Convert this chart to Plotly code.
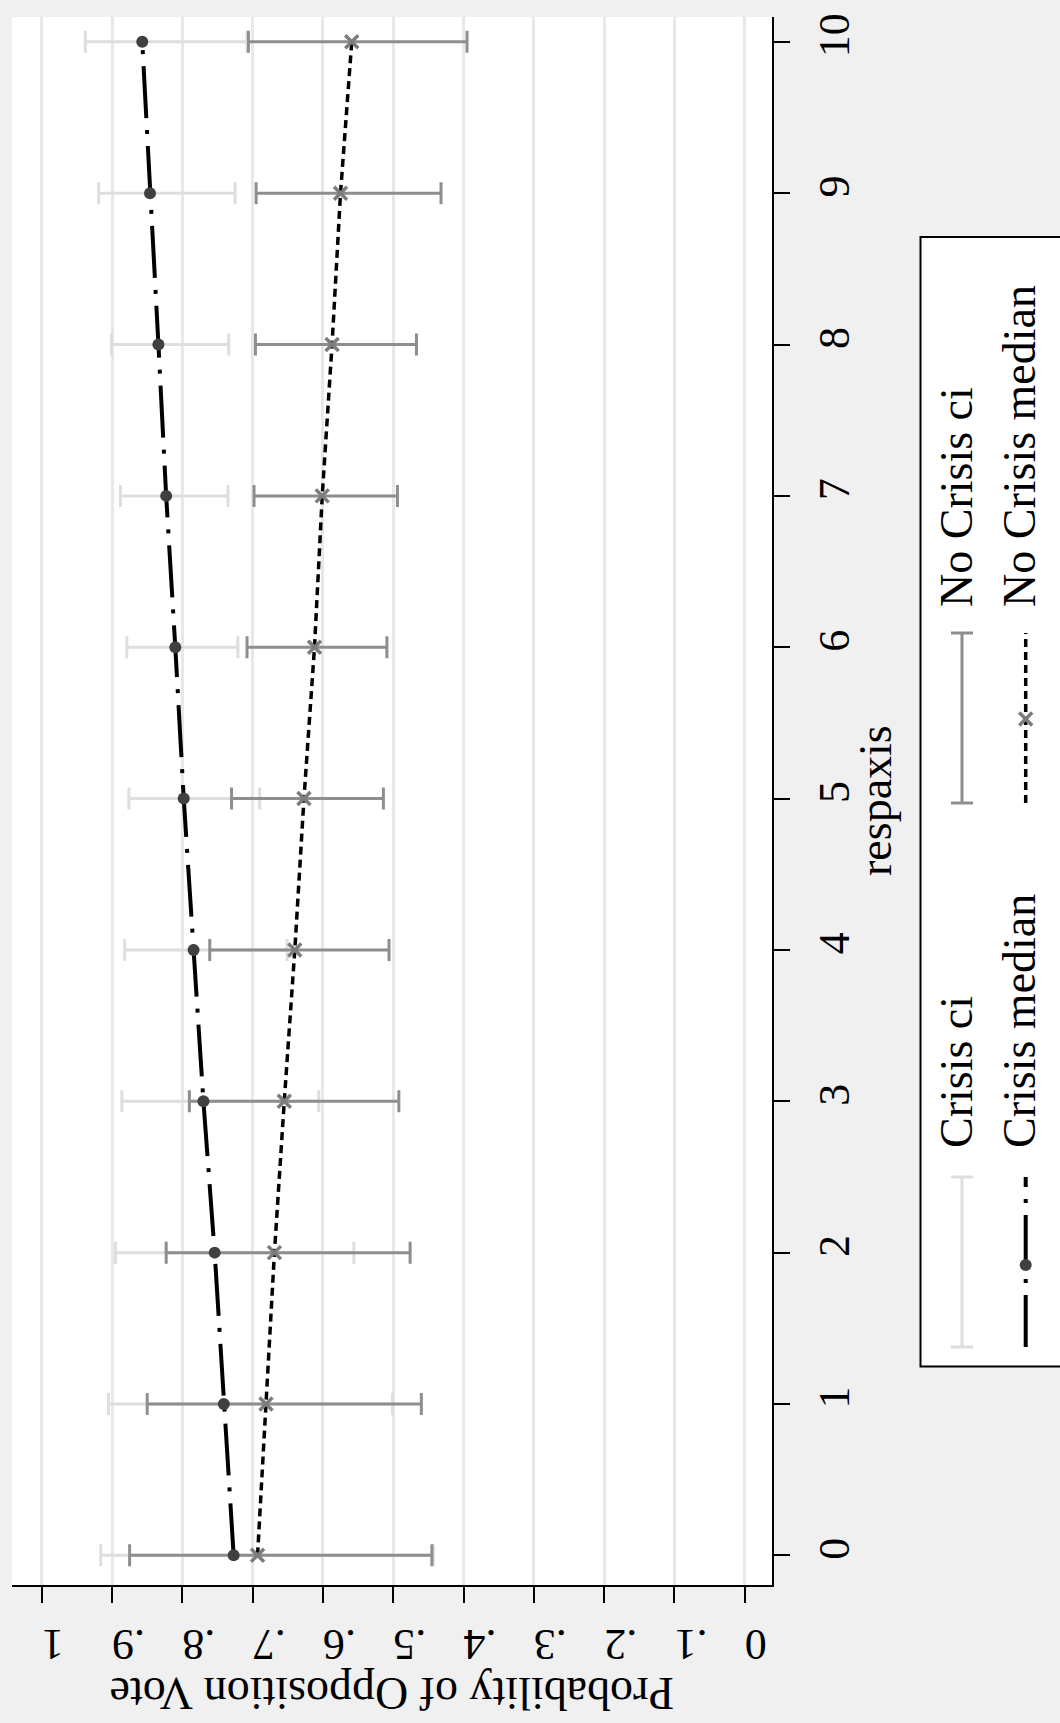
import plotly.graph_objects as go

# respaxis categories 0..10
resp = list(range(11))

# Crisis: median and confidence interval
crisis_median = [0.727, 0.741, 0.754, 0.770, 0.784, 0.798, 0.810, 0.823, 0.834, 0.846, 0.857]
crisis_lo = [0.443, 0.501, 0.556, 0.606, 0.651, 0.690, 0.721, 0.735, 0.734, 0.725, 0.708]
crisis_hi = [0.916, 0.905, 0.895, 0.886, 0.882, 0.876, 0.879, 0.888, 0.901, 0.919, 0.938]

# No crisis: median and confidence interval
nocrisis_median = [0.693, 0.681, 0.669, 0.655, 0.640, 0.627, 0.612, 0.601, 0.587, 0.575, 0.559]
nocrisis_lo = [0.445, 0.460, 0.476, 0.492, 0.506, 0.514, 0.509, 0.494, 0.467, 0.432, 0.395]
nocrisis_hi = [0.875, 0.850, 0.823, 0.790, 0.761, 0.730, 0.708, 0.698, 0.696, 0.695, 0.706]

prob_ticks = [0, 0.1, 0.2, 0.3, 0.4, 0.5, 0.6, 0.7, 0.8, 0.9, 1.0]
prob_labels = ["0", ".1", ".2", ".3", ".4", ".5", ".6", ".7", ".8", ".9", "1"]
resp_labels = [str(v) for v in resp]

FONT = "Liberation Serif"
W, H = 1060, 1723
ML, MR, MT, MB = 12, 288, 17, 138
PW, PH = W - ML - MR, H - MT - MB

LIGHT = "#dedede"
MID = "#8e8e8e"
DOT = "#404040"
XCOL = "#7c7c7c"


def px_x(px):
    return (px - ML) / PW


def px_y(py):
    return (H - MB - py) / PH


fig = go.Figure()

# confidence intervals as capped error bars around the medians
fig.add_trace(go.Scatter(
    x=crisis_median, y=resp, mode="markers",
    marker=dict(size=1, color="rgba(0,0,0,0)"),
    error_x=dict(type="data", symmetric=False,
                 array=[h - m for h, m in zip(crisis_hi, crisis_median)],
                 arrayminus=[m - l for m, l in zip(crisis_median, crisis_lo)],
                 color=LIGHT, thickness=3, width=11),
    showlegend=False, hoverinfo="skip"))

fig.add_trace(go.Scatter(
    x=nocrisis_median, y=resp, mode="markers",
    marker=dict(size=1, color="rgba(0,0,0,0)"),
    error_x=dict(type="data", symmetric=False,
                 array=[h - m for h, m in zip(nocrisis_hi, nocrisis_median)],
                 arrayminus=[m - l for m, l in zip(nocrisis_median, nocrisis_lo)],
                 color=MID, thickness=3, width=11),
    showlegend=False, hoverinfo="skip"))

# median lines
fig.add_trace(go.Scatter(
    x=crisis_median, y=resp, mode="lines+markers",
    line=dict(color="black", width=4, dash="52px,12px,4px,12px"),
    marker=dict(symbol="circle", size=12, color=DOT),
    showlegend=False))

fig.add_trace(go.Scatter(
    x=nocrisis_median, y=resp, mode="lines+markers",
    line=dict(color="black", width=3.5, dash="8px,5px"),
    marker=dict(symbol="x-thin", size=13, color=XCOL,
                line=dict(width=3.5, color=XCOL)),
    showlegend=False))

fig.update_layout(
    width=W, height=H,
    margin=dict(l=ML, r=MR, t=MT, b=MB, pad=0),
    paper_bgcolor="#f0f0f0", plot_bgcolor="white",
    font=dict(family=FONT, size=44, color="black"),
    showlegend=False,
)

fig.update_xaxes(
    range=[1.0423, -0.0388],
    tickvals=prob_ticks, ticktext=prob_labels, tickangle=180,
    ticks="outside", ticklen=16, tickwidth=2, tickcolor="black",
    showline=True, linecolor="black", linewidth=2,
    showgrid=True, gridcolor="#e8e8e8", gridwidth=3,
    zeroline=False, tickfont=dict(size=44),
    ticklabelstandoff=18,
)

fig.update_yaxes(
    range=[-0.196, 10.164], side="right",
    tickvals=resp, ticktext=resp_labels, tickangle=-90,
    ticks="outside", ticklen=16, tickwidth=2, tickcolor="black",
    showline=True, linecolor="black", linewidth=2,
    showgrid=False, zeroline=False, tickfont=dict(size=44),
    ticklabelstandoff=6,
)

annotations = [
    dict(text="Probability of Opposition Vote", textangle=180,
         x=0.5, y=px_y(1693), xref="paper", yref="paper",
         xanchor="center", yanchor="middle", showarrow=False,
         font=dict(size=46)),
    dict(text="respaxis", textangle=-90,
         x=px_x(875), y=0.5, xref="paper", yref="paper",
         xanchor="center", yanchor="middle", showarrow=False,
         font=dict(size=46)),
]

# legend: two rotated columns of keys
legend_items = [
    ("Crisis ci", 956, 1150),
    ("Crisis median", 1019, 1150),
    ("No Crisis ci", 956, 609),
    ("No Crisis median", 1019, 609),
]
for text, cx, by in legend_items:
    annotations.append(dict(
        text=text, textangle=-90, x=px_x(cx), y=px_y(by),
        xref="paper", yref="paper", xanchor="center", yanchor="bottom",
        showarrow=False, font=dict(size=46)))

shapes = [
    dict(type="rect", xref="paper", yref="paper",
         x0=px_x(920.5), x1=px_x(1075), y0=px_y(1366.5), y1=px_y(237),
         line=dict(color="black", width=2), fillcolor="white", layer="below"),
]


def ci_key(cx, y_bot, y_top, color):
    out = [dict(type="line", xref="paper", yref="paper",
                x0=px_x(cx), x1=px_x(cx), y0=px_y(y_bot), y1=px_y(y_top),
                line=dict(color=color, width=3))]
    for yy in (y_bot, y_top):
        out.append(dict(type="line", xref="paper", yref="paper",
                        x0=px_x(cx - 11), x1=px_x(cx + 11), y0=px_y(yy), y1=px_y(yy),
                        line=dict(color=color, width=3)))
    return out


shapes += ci_key(962, 1347, 1177, LIGHT)
shapes += ci_key(962, 803, 633, MID)

# crisis median key: dash-dot line with a dot
shapes.append(dict(type="line", xref="paper", yref="paper",
                   x0=px_x(1025.7), x1=px_x(1025.7), y0=px_y(1347), y1=px_y(1177),
                   line=dict(color="black", width=4, dash="52px,12px,4px,12px")))
shapes.append(dict(type="circle", xref="paper", yref="paper",
                   x0=px_x(1019.7), x1=px_x(1031.7), y0=px_y(1271), y1=px_y(1259),
                   line=dict(color=DOT, width=0), fillcolor=DOT))

# no crisis median key: dashed line with an x
shapes.append(dict(type="line", xref="paper", yref="paper",
                   x0=px_x(1025.7), x1=px_x(1025.7), y0=px_y(803), y1=px_y(633),
                   line=dict(color="black", width=3.5, dash="8px,5px")))
for dx in (-1, 1):
    shapes.append(dict(type="line", xref="paper", yref="paper",
                       x0=px_x(1025.7 - 6.5), x1=px_x(1025.7 + 6.5),
                       y0=px_y(719 - 6.5 * dx), y1=px_y(719 + 6.5 * dx),
                       line=dict(color=XCOL, width=3.5)))

fig.update_layout(annotations=annotations, shapes=shapes)

fig.write_html("out.html")
